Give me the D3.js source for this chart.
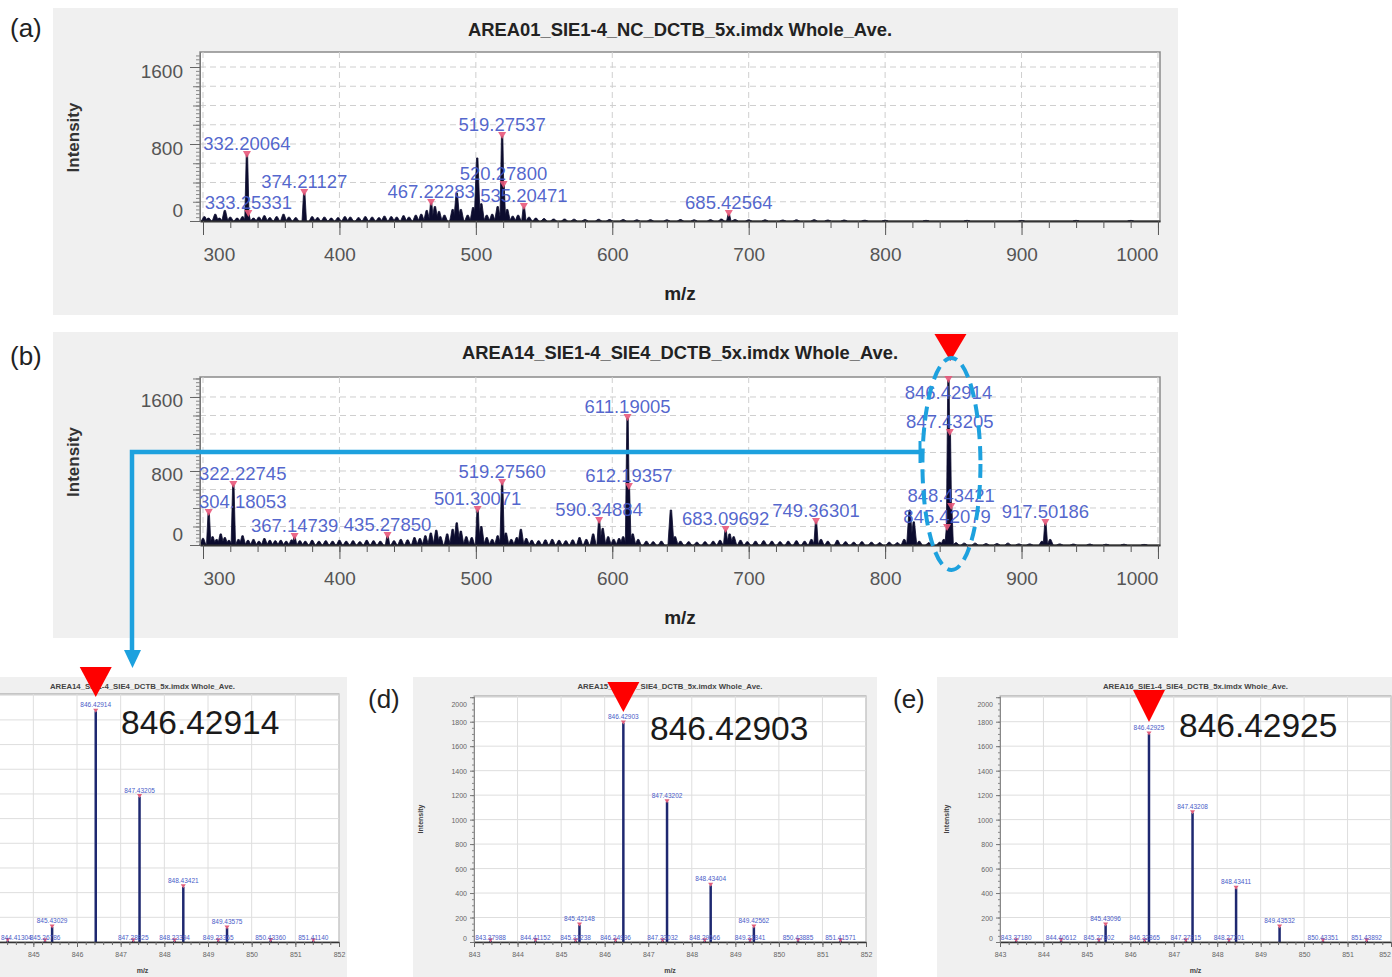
<!DOCTYPE html>
<html><head><meta charset="utf-8">
<script src="https://cdn.jsdelivr.net/npm/d3@7"></script>
<style>body{margin:0;background:#fff;} svg{display:block;font-family:"Liberation Sans",Arial,sans-serif;}</style>
</head><body><script>
const W=1392,H=977;
// ---------------- data ----------------
const titleA="AREA01_SIE1-4_NC_DCTB_5x.imdx Whole_Ave.";
const titleB="AREA14_SIE1-4_SIE4_DCTB_5x.imdx Whole_Ave.";
const titleC="AREA14_SIE1-4_SIE4_DCTB_5x.imdx Whole_Ave.";
const titleD="AREA15_SIE1-4_SIE4_DCTB_5x.imdx Whole_Ave.";
const titleE="AREA16_SIE1-4_SIE4_DCTB_5x.imdx Whole_Ave.";
const mainXTicks=[300,400,500,600,700,800,900,1000];
const mainYTicks=[0,800,1600];
const zoomXTicks=[843,844,845,846,847,848,849,850,851,852];
const zoomYTicks=[0,200,400,600,800,1000,1200,1400,1600,1800,2000];

// panel (a): labelled peaks [m/z, intensity]
const labeledA=[[332.20064,686],[333.25331,73],[374.21127,291],[467.22283,187],[519.27537,883],[520.27800,374],[535.20471,145],[685.42564,73]];
// panel (a): unlabelled peaks / noise
const peaksA=[[301,45],[304,30],[309,70],[312,30],[316,110],[320,40],[325,30],[329,45],[337,30],[341,40],[345,55],[349,35],[354,45],[359,70],[363,40],[368,35],[380,45],[384,35],[389,40],[394,30],[399,35],[404,45],[408,40],[414,35],[419,45],[424,40],[429,35],[433,50],[438,45],[442,40],[447,55],[451,40],[456,60],[460,70],[464,110],[470,150],[473,100],[477,60],[483,120],[486,291],[489,120],[494,60],[498,140],[501,655],[504,180],[508,60],[512,70],[516,150],[523,120],[527,50],[531,60],[539,40],[544,30],[550,25],[557,20],[565,20],[572,18],[580,15],[590,18],[598,15],[608,15],[618,12],[628,14],[640,12],[650,15],[660,12],[672,14],[680,20],[690,15],[700,12],[712,12],[725,10],[735,12],[748,14],[758,10],[770,10],[785,8],[800,8],[830,6],[860,6],[900,6],[940,6],[980,6]];

// panel (b)
const labeledB=[[304.18053,346],[322.22745,649],[367.14739,86],[435.27850,97],[501.30071,378],[519.27560,670],[590.34884,259],[611.19005,1373],[612.19357,627],[683.09692,162],[749.36301,249],[845.42079,184],[846.42914,1784],[847.43205,1211],[848.43421,411],[917.50186,238]];
const peaksB=[[300,70],[307,90],[310,60],[313,120],[316,80],[319,50],[326,60],[329,100],[333,50],[337,60],[341,40],[345,70],[349,50],[353,45],[357,50],[361,40],[365,55],[371,45],[375,40],[380,50],[385,40],[390,45],[395,40],[400,50],[405,40],[410,45],[415,35],[420,50],[425,45],[430,40],[440,45],[445,60],[450,55],[455,80],[459,70],[463,100],[467,130],[471,160],[474,90],[479,120],[483,170],[486,240],[489,150],[493,90],[497,80],[504,200],[508,80],[512,60],[516,100],[522,130],[526,60],[530,80],[533,170],[537,70],[541,50],[546,45],[551,55],[556,60],[561,50],[566,45],[571,55],[576,80],[581,60],[586,120],[593,180],[597,90],[601,60],[605,70],[608,90],[615,120],[619,60],[625,40],[630,35],[636,40],[643,378],[646,90],[650,40],[656,35],[662,30],[668,35],[674,40],[679,50],[686,120],[689,90],[694,50],[699,35],[705,40],[711,45],[717,40],[723,35],[729,40],[735,45],[741,40],[746,60],[753,60],[758,40],[765,50],[771,35],[777,30],[783,35],[790,30],[796,25],[803,30],[809,25],[814,60],[818,378],[821,250],[825,40],[832,25],[840,30],[843,60],[852,25],[858,20],[866,20],[874,15],[882,15],[890,20],[898,12],[906,12],[915,40],[921,60],[928,12],[938,10],[950,10],[962,8],[975,8],[990,6]];

// zoomed spectra (c), (d), (e): [m/z, intensity], every peak labelled
const zoomC=[[844.41304,12],[845.26786,10],[845.43029,122],[846.42914,1870],[847.28825,10],[847.43205,1179],[848.23394,10],[848.43421,447],[849.23365,10],[849.43575,114],[850.43360,12],[851.41140,10]];
const zoomD=[[843.37988,10],[844.41152,12],[845.33238,10],[845.42148,138],[846.24996,10],[846.42903,1789],[847.33032,10],[847.43202,1146],[848.29666,10],[848.43404,463],[849.33841,10],[849.42562,122],[850.43885,12],[851.41571,10]];
const zoomE=[[843.37180,10],[844.40612,12],[845.27802,10],[845.43096,138],[846.32865,10],[846.42925,1699],[847.27815,10],[847.43208,1057],[848.27201,10],[848.43411,439],[849.43532,122],[850.43351,10],[851.43892,10]];

// ---------------- drawing ----------------
const svg=d3.select('body').append('svg').attr('width',W).attr('height',H);
const fmt5=d3.format('.5f');
const spike=(xp,yb,yt,hw)=>`M${xp-hw},${yb}L${xp-0.7},${yt}L${xp+0.7},${yt}L${xp+hw},${yb}Z`;
// keep a text inside the picture horizontally
function keepInside(){const b=this.getBBox();const x0=+this.getAttribute('x')||0;
  if(b.x<1) this.setAttribute('x',x0+(1-b.x)); else if(b.x+b.width>W-1) this.setAttribute('x',x0-(b.x+b.width-W+1));}

function drawMain(o){
  const g=svg.append('g');
  g.append('rect').attr('x',o.bg[0]).attr('y',o.bg[1]).attr('width',o.bg[2]).attr('height',o.bg[3]).attr('fill','#f0f0f0');
  const L=200,R=1160;
  const x=d3.scaleLinear().domain([297.8,1001.5]).range([L,R]);
  const y=d3.scaleLinear().domain([0,o.yMax]).range([o.base,o.top]);
  g.append('rect').attr('x',L).attr('y',o.top).attr('width',R-L).attr('height',o.base-o.top)
    .attr('fill','#fff').attr('stroke','#8a8a8a').attr('stroke-width',1.5);
  // grid
  g.selectAll(null).data(mainXTicks).join('line')
    .attr('x1',d=>x(d)).attr('x2',d=>x(d)).attr('y1',o.top).attr('y2',o.base)
    .attr('stroke','#cfcfcf').attr('stroke-dasharray','6,4');
  g.selectAll(null).data(d3.range(200,1601,200)).join('line')
    .attr('x1',L).attr('x2',R).attr('y1',d=>y(d)).attr('y2',d=>y(d))
    .attr('stroke','#cfcfcf').attr('stroke-dasharray','6,4');
  // spectrum
  const sg=g.append('g').attr('fill','#0c0c2e').attr('stroke','#0c0c2e').attr('stroke-width',0.8);
  sg.selectAll(null).data(o.peaks).join('path').attr('d',d=>spike(x(d[0]),y(0),y(d[1]),3));
  sg.selectAll(null).data(o.labeled).join('path').attr('d',d=>spike(x(d[0]),y(0),y(d[1]),2.2));
  // axes
  const xa=g.append('g').attr('transform',`translate(0,${o.base})`);
  xa.call(d3.axisBottom(x).tickValues(d3.range(300,1001,20)).tickSize(7).tickSizeOuter(0).tickFormat(''));
  xa.select('.domain').attr('stroke','#333').attr('stroke-width',2.2);
  xa.selectAll('.tick line').attr('stroke','#555');
  const xb=g.append('g').attr('transform',`translate(0,${o.base})`);
  xb.call(d3.axisBottom(x).tickValues(mainXTicks).tickSize(14).tickSizeOuter(0).tickFormat(d3.format('d')));
  xb.select('.domain').remove();
  xb.selectAll('.tick line').attr('stroke','#555');
  xb.selectAll('text').attr('y',40).attr('dy',null).attr('font-size',19).attr('fill','#555')
    .attr('font-family','"Liberation Sans",Arial,sans-serif')
    .attr('text-anchor',(d,i)=>i===0?'start':(i===mainXTicks.length-1?'end':'middle'));
  const ya=g.append('g').attr('transform',`translate(${L},0)`);
  ya.call(d3.axisLeft(y).tickValues(d3.range(0,o.yMax,40)).tickSize(4).tickSizeOuter(0).tickFormat(''));
  ya.select('.domain').attr('stroke','#777');
  ya.selectAll('.tick line').attr('stroke','#888');
  const yb=g.append('g').attr('transform',`translate(${L},0)`);
  yb.call(d3.axisLeft(y).tickValues(d3.range(0,o.yMax,200)).tickSize(7).tickSizeOuter(0).tickFormat(''));
  yb.select('.domain').remove(); yb.selectAll('.tick line').attr('stroke','#777');
  const yc=g.append('g').attr('transform',`translate(${L},0)`);
  yc.call(d3.axisLeft(y).tickValues(mainYTicks).tickSize(10).tickSizeOuter(0).tickFormat(d3.format('d')));
  yc.select('.domain').remove(); yc.selectAll('.tick line').attr('stroke','#666');
  yc.selectAll('text').attr('x',-17).attr('dy',null).attr('y',d=>d===0?-5:10).attr('font-size',19).attr('fill','#555')
    .attr('font-family','"Liberation Sans",Arial,sans-serif');
  // markers + labels
  g.selectAll(null).data(o.labeled).join('path')
    .attr('d',d=>{const xp=x(d[0]),yp=y(d[1]);return `M${xp-4},${yp-4}L${xp+4},${yp-4}L${xp},${yp+3}Z`;})
    .attr('fill','#e8587a').attr('opacity',0.9);
  g.selectAll(null).data(o.labeled).join('text')
    .attr('x',d=>x(d[0])).attr('y',d=>Math.max(y(d[1])-5,o.top+22))
    .attr('text-anchor','middle').attr('font-size',18.5).attr('fill','#4458c8').attr('fill-opacity',0.92)
    .text(d=>fmt5(d[0]))
    .each(function(){const w=this.getComputedTextLength();const cx=+this.getAttribute('x');if(cx-w/2<L-1){this.setAttribute('x',L-1+w/2);}});
  // titles
  g.append('text').attr('x',(L+R)/2).attr('y',o.titleY).attr('text-anchor','middle').attr('font-weight','bold')
    .attr('font-size',18).attr('fill','#222').attr('textLength',o.titleLen).attr('lengthAdjust','spacingAndGlyphs').text(o.title);
  g.append('text').attr('transform',`translate(79,${(o.top+o.base)/2+1}) rotate(-90)`).attr('text-anchor','middle')
    .attr('font-weight','bold').attr('font-size',17).attr('fill','#333').text('Intensity');
  g.append('text').attr('x',680).attr('y',o.base+79).attr('text-anchor','middle').attr('font-weight','bold')
    .attr('font-size',19).attr('fill','#222').text('m/z');
  g.append('text').attr('x',10).attr('y',o.tagY).attr('font-size',26).attr('fill','#222').text(o.tag);
  return {x,y};
}

const pA=drawMain({bg:[53,8,1125,307],top:52,base:221,yMax:1756,peaks:peaksA,labeled:labeledA,title:titleA,titleY:36,titleLen:424,tag:'(a)',tagY:37});
const pB=drawMain({bg:[53,332,1125,306],top:377,base:545,yMax:1816,peaks:peaksB,labeled:labeledB,title:titleB,titleY:359,titleLen:436,tag:'(b)',tagY:365});

function drawSmall(o){
  const g=svg.append('g');
  g.append('rect').attr('x',o.bg[0]).attr('y',o.bg[1]).attr('width',o.bg[2]).attr('height',o.bg[3]).attr('fill','#f0f0f0');
  const x=d3.scaleLinear().domain([843,852]).range([o.left,o.right]);
  const y=d3.scaleLinear().domain([0,2010]).range([o.base,o.top]);
  g.append('rect').attr('x',o.left).attr('y',o.top).attr('width',o.right-o.left).attr('height',o.base-o.top)
    .attr('fill','#fff').attr('stroke','#999').attr('stroke-width',1);
  g.selectAll(null).data(zoomXTicks).join('line').attr('x1',d=>x(d)).attr('x2',d=>x(d)).attr('y1',o.top).attr('y2',o.base).attr('stroke','#dedede');
  g.selectAll(null).data(zoomYTicks.slice(1)).join('line').attr('x1',o.left).attr('x2',o.right).attr('y1',d=>y(d)).attr('y2',d=>y(d)).attr('stroke','#dedede');
  // sticks
  g.selectAll(null).data(o.peaks).join('line').attr('x1',d=>x(d[0])).attr('x2',d=>x(d[0])).attr('y1',y(0)).attr('y2',d=>y(d[1]))
    .attr('stroke','#1e2870').attr('stroke-width',2.5);
  // axes
  const xa=g.append('g').attr('transform',`translate(0,${o.base})`);
  xa.call(d3.axisBottom(x).tickValues(d3.range(843,852.01,0.2)).tickSize(3).tickSizeOuter(0).tickFormat(''));
  xa.select('.domain').attr('stroke','#333').attr('stroke-width',1.6);
  xa.selectAll('.tick line').attr('stroke','#666');
  const xb=g.append('g').attr('transform',`translate(0,${o.base})`);
  xb.call(d3.axisBottom(x).tickValues(zoomXTicks).tickSize(5).tickSizeOuter(0).tickFormat(d3.format('d')));
  xb.select('.domain').remove(); xb.selectAll('.tick line').attr('stroke','#666');
  xb.selectAll('text').attr('y',15).attr('dy',null).attr('font-size',7).attr('fill','#666')
    .attr('font-family','"Liberation Sans",Arial,sans-serif');
  xb.selectAll('text').filter(d=>x(d)<0).remove();  // off the picture, as in the reference
  xb.selectAll('text').each(function(){const b=this.getBoundingClientRect();
    if(b.right>W-1) this.setAttribute('x',-(b.right-W+1)); if(b.left<1) this.setAttribute('x',1-b.left);});
  const ya=g.append('g').attr('transform',`translate(${o.left},0)`);
  ya.call(d3.axisLeft(y).tickValues(d3.range(0,2001,50)).tickSize(2).tickSizeOuter(0).tickFormat(''));
  ya.select('.domain').attr('stroke','#888'); ya.selectAll('.tick line').attr('stroke','#888');
  const yb=g.append('g').attr('transform',`translate(${o.left},0)`);
  yb.call(d3.axisLeft(y).tickValues(zoomYTicks).tickSize(4).tickSizeOuter(0).tickFormat(d3.format('d')));
  yb.select('.domain').remove(); yb.selectAll('.tick line').attr('stroke','#777');
  yb.selectAll('text').attr('x',-7).attr('dy',null).attr('y',d=>d===0?-2:(d===2000?9:2.5)).attr('font-size',7).attr('fill','#666')
    .attr('font-family','"Liberation Sans",Arial,sans-serif');
  if(o.left<0) yb.selectAll('text').remove();   // axis lies outside the picture, as in the reference
  // markers & labels
  g.selectAll(null).data(o.peaks).join('path')
    .attr('d',d=>{const xp=x(d[0]),yp=y(d[1]);return `M${xp-2.5},${yp-2.5}L${xp+2.5},${yp-2.5}L${xp},${yp+1.5}Z`;})
    .attr('fill','#e0607e');
  g.selectAll(null).data(o.peaks).join('text').attr('x',d=>x(d[0])).attr('y',d=>y(d[1])-(d[1]<30?1:4))
    .attr('text-anchor','middle').attr('font-size',6.5).attr('fill','#4a5cc8').text(d=>fmt5(d[0]))
    .each(keepInside);
  // titles
  g.append('text').attr('x',(o.left+o.right)/2).attr('y',689).attr('text-anchor','middle').attr('font-size',7.5)
    .attr('font-weight','bold').attr('fill','#444').attr('textLength',185).attr('lengthAdjust','spacingAndGlyphs').text(o.title);
  if(o.left>=0) g.append('text').attr('transform',`translate(${o.left-51},${(o.top+o.base)/2}) rotate(-90)`).attr('text-anchor','middle')
    .attr('font-size',7).attr('font-weight','bold').attr('fill','#444').text('Intensity');
  g.append('text').attr('x',(o.left+o.right)/2).attr('y',973).attr('text-anchor','middle').attr('font-size',7)
    .attr('font-weight','bold').attr('fill','#444').text('m/z');
  // highlighted peak value
  const top=o.peaks.reduce((a,b)=>b[1]>a[1]?b:a);
  g.append('text').attr('x',o.big[0]).attr('y',o.big[1]).attr('font-size',33.5).attr('fill','#1a1a1a').text(fmt5(top[0]));
  // red marker triangle
  const tx=x(top[0]);
  g.append('path').attr('d',`M${tx-16},${o.tri[0]}L${tx+16},${o.tri[0]}L${tx},${o.tri[1]}Z`).attr('fill','#ff0000');
  if(o.tag) g.append('text').attr('x',o.tagX).attr('y',708).attr('font-size',26).attr('fill','#222').text(o.tag);
}

drawSmall({bg:[0,677,347,300],left:-54,right:339,top:694,base:942,peaks:zoomC,title:titleC,big:[121,734],tri:[667,697]});
drawSmall({bg:[413,677,464,300],left:474,right:866,top:696,base:942,peaks:zoomD,title:titleD,big:[650,740],tri:[682,712],tag:'(d)',tagX:368});
drawSmall({bg:[937,677,455,300],left:1000,right:1391,top:696,base:942,peaks:zoomE,title:titleE,big:[1179,737],tri:[690,722],tag:'(e)',tagX:893});

// ---------------- annotations on (b) ----------------
const ann=svg.append('g');
const blue='#1da1de';
const pk=labeledB.find(d=>d[0]>846&&d[0]<847);
const cx=pB.x(pk[0])+1;
ann.append('path').attr('d',`M${cx-15},${334}L${cx+17},${334}L${cx+1},${361}Z`).attr('fill','#ff0000');
ann.append('ellipse').attr('cx',cx+2).attr('cy',464).attr('rx',29).attr('ry',106).attr('fill','none')
  .attr('stroke',blue).attr('stroke-width',4).attr('stroke-dasharray','14,7');
ann.append('path').attr('d',`M${920},452H132V652`).attr('fill','none').attr('stroke',blue).attr('stroke-width',4.5);
ann.append('line').attr('x1',920).attr('x2',920).attr('y1',441).attr('y2',463).attr('stroke',blue).attr('stroke-width',3);
ann.append('path').attr('d','M124,650L141,650L132.5,668Z').attr('fill',blue);
</script></body></html>
